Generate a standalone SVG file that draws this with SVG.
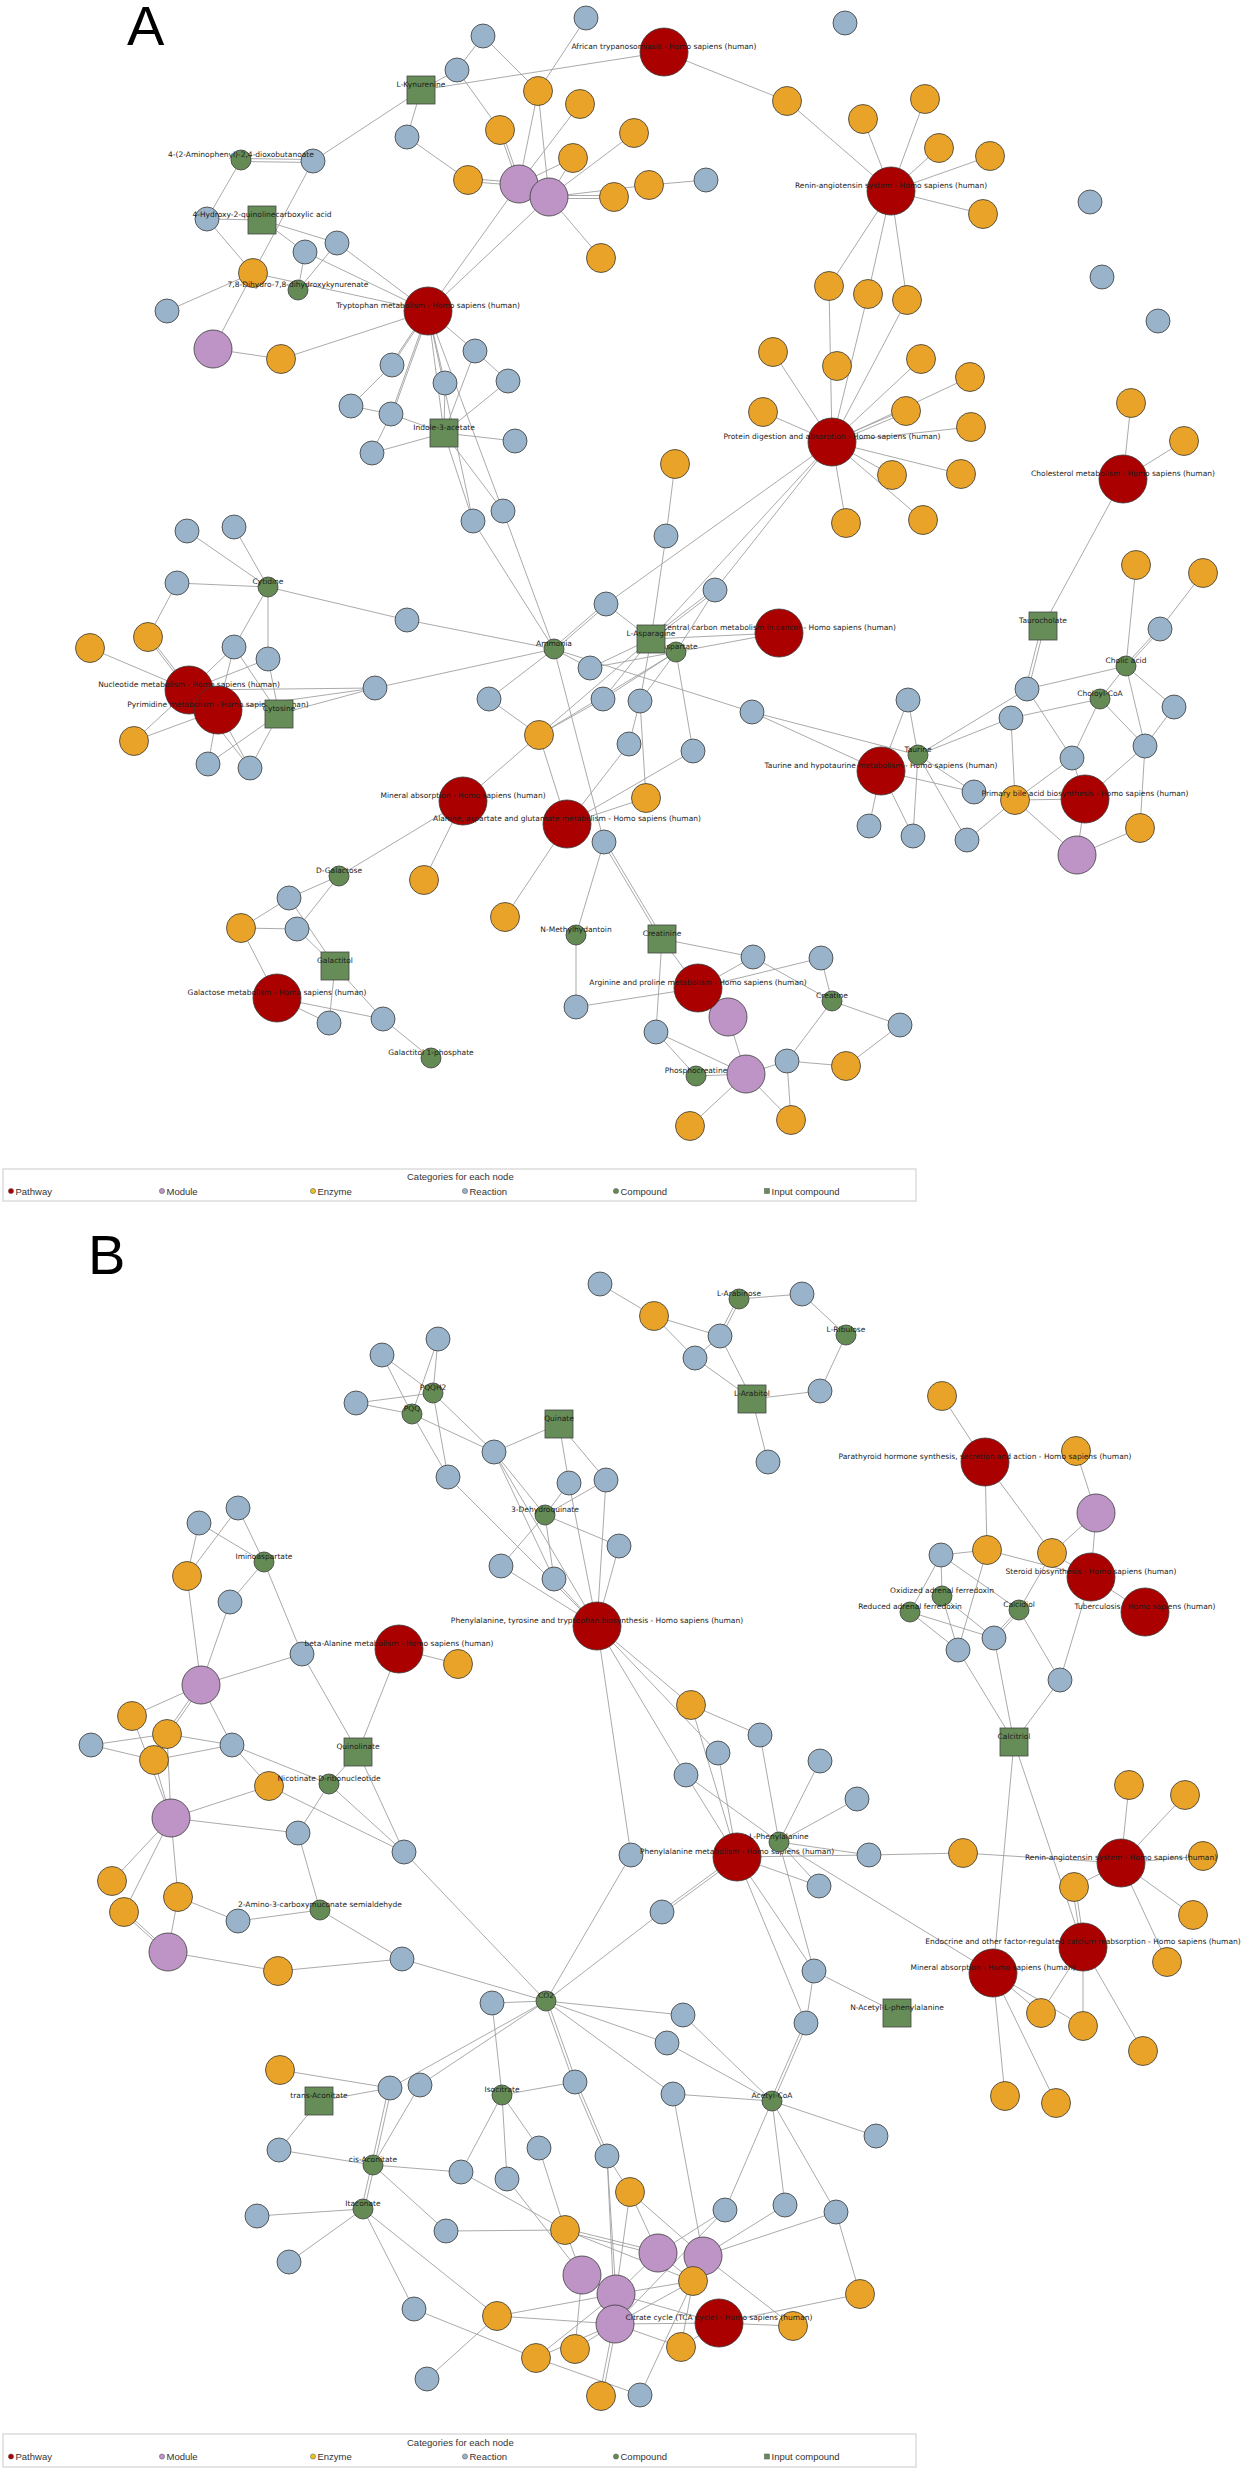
<svg xmlns="http://www.w3.org/2000/svg" width="1250" height="2472" viewBox="0 0 1250 2472">
<style>
.e path{stroke:#a0a0a0;stroke-width:0.9;fill:none}
.pw{fill:#AB0000;stroke:#3a3a3a;stroke-width:0.8}
.md{fill:#BE94C7;stroke:#3a3a3a;stroke-width:0.8}
.ez{fill:#E8A328;stroke:#3a3a3a;stroke-width:0.8}
.rx{fill:#98B3CA;stroke:#3a3a3a;stroke-width:0.8}
.cp{fill:#648B54;stroke:#3a3a3a;stroke-width:0.8}
.ic{fill:#668D57;stroke:#454545;stroke-width:0.8}
.l{font-family:"DejaVu Sans",sans-serif;font-size:7.5px;fill:#1c1c1c;text-anchor:middle}
.lg{font-family:"Liberation Sans",Arial,sans-serif;font-size:9.5px;fill:#333}
.big{font-family:"Liberation Sans",Arial,sans-serif;font-size:56px;fill:#000}
.box{fill:#fff;stroke:#dcdcdc;stroke-width:1.5}
</style>
<rect width="1250" height="2472" fill="#fff"/>
<text class="big" x="127" y="45">A</text>
<text class="big" x="88" y="1274">B</text>

<g class="e" id="connectors">
<path d="M421 90L313 161M421 90L407 137M421 90L457 70M421 90L664 52M457 70L483 36M483 36L538 91M586 18L538 91M457 70L500 130M407 137L468 180"/>
<path d="M468 178.5L519 182.5M468 181.5L519 185.5M499 130L518 184M501.5 130L520.5 184M538 91L519 184M538 91L549 197M580 104L519 184M573 158L519 184M573 158L549 197M634 133L549 197M549 195.5L614 195.5M549 198.5L614 198.5M549 197L649 185M649 185L706 180M549 197L601 258M519 184L428 311M549 197L428 311M664 52L787 101M787 101L891 191"/>
<path d="M241 158.5L313 159.5M241 161.5L313 162.5M241 160L207 219M207 219L262 220M207 219L253 273M313 161L253 273M262 220L305 252M262 220L337 243M305 252L298 290M337 243L298 290M305 252L428 311M337 243L428 311M253 273L428 311M167 311L253 273M253 273L213 349M213 349L281 359M281 359L428 311"/>
<path d="M428 311L392 365M426.5 311L390.5 365M428 311L391 414M429.5 311L392.5 414M428 311L444 433M428 311L475 351M428 311L445 383M428 311L503 511M428 311L473 521M392 365L351 406M351 406L391 414M391 414L372 453M372 453L444 433M391 414L444 433M475 351L508 381M475 351L444 433M508 381L444 433M445 383L444 433M444 433L515 441M444 433L473 521M444 433L503 511"/>
<path d="M891 191L925 99M891 191L863 119M891 191L939 148M891 191L990 156M891 191L983 214M891 191L829 286M891 191L868 294M891 191L907 300"/>
<path d="M832 442L829 286M832 442L868 294M832 442L907 300M832 442L921 359M832 442L970 377M832 440.5L906 409.5M832 443.5L906 412.5M832 442L971 427M832 442L892 475M832 442L961 474M832 442L846 523M832 442L923 520M832 442L773 352M832 442L763 412M832 442L606 604M832 442L715 590M832 442L651 639M675 464L666 536M666 536L651 639M1123 479L1131 403M1123 479L1184 441M1123 479L1043 626"/>
<path d="M473 521L554 649M503 511L554 649M606 602.5L554 647.5M606 605.5L554 650.5M606 604L651 639M715 588.5L651 637.5M715 591.5L651 640.5M715 590L676 652M651 639L779 633M676 652L779 633M554 649L590 668M554 649L489 699M554 649L752 712M554 649L604 842M554 649L375 688M407 620L554 649M590 668L651 639M590 668L676 652M603 699L651 639M603 699L676 652M603 699L539 735M640 701L651 639M640 701L676 652M640 701L629 744M640 701L646 798M539 735L651 639M539 735L676 652M489 699L539 735M539 735L463 801M539 735L567 824M629 744L567 824M693 751L676 652M693 751L567 824M646 798L567 824M752 712L881 771M752 712L918 755M463 801L424 880M463 801L339 876M567 824L505 917"/>
<path d="M604 842L576 935M602.5 842L660.5 939M605.5 842L663.5 939M576 935L576 1007M576 1007L698 988M662 939L753 957M662 939L698 988M662 939L656 1032M753 957L698 988M753 957L832 1001M698 988L821 958M821 958L832 1001M728 1017L746 1074M656 1032L696 1076M656 1032L746 1074M746 1074L787 1061M787 1061L846 1066M787 1061L832 1001M696 1076L746 1074M746 1074L690 1126M746 1074L791 1120M787 1061L791 1120"/>
<path d="M1041.5 626L1025.5 689M1044.5 626L1028.5 689M1136 565L1126 666M1203 573L1160 629M1160 627.5L1126 664.5M1160 630.5L1126 667.5M1126 666L1027 689M1126 666L1100 699M1126 666L1174 707M1126 666L1145 746M1100 699L1011 718M1100 699L1072 758M1100 699L1145 746M1174 707L1145 746M908 700L881 771M908 700L918 755M918 755L1027 689M918 755L1011 718M1011 718L1015 800M1027 689L1072 758M1072 758L1015 800M1072 758L1085 799M1145 746L1085 799M1145 746L1140 828M1015 800L1085 799M1015 800L1077 855M1085 799L1077 855M1077 855L1140 828M918 755L974 792M881 771L974 792M918 755L913 836M918 755L967 840M881 771L869 826M881 771L913 836M967 840L1015 800M832 1001L900 1025M900 1025L846 1066"/>
<path d="M187 531L268 587M234 527L268 587M177 583L268 587M268 587L407 620M268 587L234 647M268 587L268 659M177 583L148 637M147 637L188 690M149.5 637L190.5 690M90 648L189 690M234 647L189 690M234 647L218 710M234 647L279 714M268 659L189 690M268 659L279 714M375 688L189 690M375 688L218 710M375 688L279 714M134 741L189 690M134 741L218 710M218 710L208 764M218 710L250 768M189 690L250 768M279 714L208 764M279 714L250 768"/>
<path d="M339 876L289 898M339 876L297 929M289 898L241 928M289 898L335 966M241 928L297 929M241 928L277 998M297 929L335 966M335 966L329 1023M335 966L383 1019M277 998L329 1023M277 998L383 1019M383 1019L431 1058"/>
<path d="M382 1355L433 1393M382 1355L412 1414M356 1403L433 1393M356 1403L412 1414M438 1339L433 1393M438 1339L412 1414M433 1393L448 1477M433 1393L494 1452M412 1414L494 1452M412 1414L448 1477M494 1452L559 1424M494 1452L545 1515M494 1452L597 1626M494 1452L554 1579M448 1477L597 1626M559 1424L569 1483M559 1424L606 1480M569 1483L545 1515M606 1480L545 1515M545 1515L619 1546M545 1515L501 1566M545 1515L554 1579M569 1483L597 1626M606 1480L597 1626M619 1546L597 1626M501 1566L597 1626M554 1579L597 1626"/>
<path d="M654 1316L600 1284M654 1316L720 1336M654 1316L695 1358M718.5 1336L737.5 1299M721.5 1336L740.5 1299M695 1358L720 1336M739 1299L802 1294M802 1294L846 1335M846 1335L820 1391M820 1391L752 1399M695 1358L752 1399M720 1336L752 1399M752 1399L768 1462"/>
<path d="M597 1626L691 1705M597 1626L718 1753M597 1626L686 1775M597 1626L631 1855M691 1705L760 1735M691 1705L737 1857M718 1753L737 1857M686 1775L737 1857M686 1775L779 1842M760 1735L779 1842M820 1761L779 1842M857 1799L779 1842M779 1842L869 1855M737 1857L869 1855M779 1842L993 1973M869 1855L963 1853M963 1853L1121 1863M779 1842L819 1886M737 1857L819 1886M737 1855.5L662 1910.5M737 1858.5L662 1913.5M737 1857L814 1971M779 1842L814 1971M814 1971L897 2013M737 1857L806 2023M814 1971L806 2023M804.5 2023L770.5 2101M807.5 2023L773.5 2101"/>
<path d="M662 1912L546 2001M631 1855L546 2001M404 1852L546 2001M402 1959L546 2001M492 2003L546 2001M492 2003L502 2095M546 2001L683 2015M546 2001L667 2043M546 2001L673 2094M544.5 2001L573.5 2082M547.5 2001L576.5 2082M546 2001L390 2088M546 2001L420 2085M575 2082L502 2095M573.5 2082L605.5 2156M576.5 2082L608.5 2156M502 2095L539 2148M502 2095L461 2172M502 2095L507 2179M683 2015L772 2101M667 2043L772 2101M673 2094L772 2101M772 2101L876 2136M772 2101L725 2210M772 2101L785 2205M772 2101L836 2212"/>
<path d="M673 2094L703 2256M539 2148L565 2230M607 2156L616 2294M607 2156L615 2324M607 2156L630 2192M630 2192L658 2253M630 2192L616 2294M630 2192L703 2256M461 2172L565 2230M507 2179L582 2275M446 2231L565 2230M565 2228.5L658 2251.5M565 2231.5L658 2254.5M565 2230L582 2275M565 2230L693 2281M725 2210L658 2253M725 2210L615 2324M785 2205L703 2256M836 2212L703 2256M836 2212L860 2294M719 2323L860 2294M703 2256L793 2326M703 2256L693 2281M658 2253L693 2281M658 2253L616 2294M693 2281L616 2294M693 2281L615 2324M693 2281L681 2347M616 2294L497 2316M615 2324L497 2316M615 2324L719 2323M616 2294L719 2323M719 2323L793 2326M615 2324L575 2349M615 2324L536 2358M616 2294L536 2358M613.5 2324L599.5 2396M616.5 2324L602.5 2396M615 2324L681 2347M582 2275L575 2349M582 2275L616 2294M536 2358L640 2395M640 2395L693 2281M414 2309L536 2358M427 2379L497 2316M681 2347L719 2323"/>
<path d="M373 2165L461 2172M373 2165L446 2231M363 2209L497 2316M363 2209L414 2309M371.5 2165L388.5 2088M374.5 2165L391.5 2088M373 2165L420 2085M373 2165L279 2150M371.5 2165L361.5 2209M374.5 2165L364.5 2209M363 2209L257 2216M363 2209L289 2262M279 2150L319 2101M319 2101L390 2088M280 2070L390 2088"/>
<path d="M402 1959L278 1971M278 1971L168 1952M238 1921L178 1897M238 1921L320 1910M320 1910L298 1833M320 1910L402 1959M298 1833L329 1784M298 1833L171 1818M171 1818L269 1786M171 1818L112 1881M171 1818L124 1912M171 1818L178 1897M178 1897L168 1952M124 1910.5L168 1950.5M124 1913.5L168 1953.5M269 1786L404 1852M329 1784L404 1852M358 1752L404 1852"/>
<path d="M238 1508L264 1562M238 1508L187 1576M199 1523L187 1576M199 1523L264 1562M264 1562L230 1602M264 1562L302 1654M187 1576L201 1685M230 1602L201 1685M201 1685L302 1654M302 1654L358 1752M399 1649L358 1752M399 1649L458 1664M201 1685L132 1716M199.5 1685L165.5 1734M202.5 1685L168.5 1734M201 1685L232 1745M167 1734L232 1745M154 1760L232 1745M91 1745L167 1734M91 1745L154 1760M132 1716L171 1818M167 1734L171 1818M154 1760L171 1818M232 1745L269 1786M232 1745L329 1784M358 1752L329 1784"/>
<path d="M942 1396L985 1462M985 1462L987 1550M985 1462L1052 1553M1076 1451L1096 1513M1096 1513L1052 1553M1096 1513L1091 1577M1091 1577L1145 1612M1052 1553L1091 1577M1052 1553L1019 1610M987 1550L1091 1577M941 1555L987 1550M941 1555L942 1596M941 1555L910 1612M941 1555L1019 1610M987 1550L958 1650M942 1596L958 1650M942 1596L994 1638M910 1612L958 1650M910 1612L994 1638M1017.5 1610L992.5 1638M1020.5 1610L995.5 1638M1019 1610L1060 1680M1091 1577L1060 1680M958 1650L1014 1742M994 1638L1014 1742M1060 1680L1014 1742M1014 1742L993 1973M1014 1742L1083 1947"/>
<path d="M1129 1785L1121 1863M1185 1795L1121 1863M1203 1856L1121 1863M1193 1915L1121 1863M1121 1863L1074 1887M1121 1863L1167 1962M1072.5 1887L1081.5 1947M1075.5 1887L1084.5 1947M1083 1947L1041 2013M1083 1947L1083 2026M1083 1947L1143 2051M993 1973L1041 2013M993 1973L1083 2026M993 1973L1005 2096M993 1973L1056 2103"/>
</g>

<g id="reactions" class="rx">
<g id="rA1"><circle cx="407" cy="137" r="12"/></g><g id="rA2"><circle cx="313" cy="161" r="12"/></g><g id="rA3"><circle cx="207" cy="219" r="12"/></g><g id="rA4"><circle cx="337" cy="243" r="12"/></g><g id="rA5"><circle cx="305" cy="252" r="12"/></g><g id="rA6"><circle cx="167" cy="311" r="12"/></g><g id="rA7"><circle cx="392" cy="365" r="12"/></g><g id="rA8"><circle cx="351" cy="406" r="12"/></g><g id="rA9"><circle cx="391" cy="414" r="12"/></g><g id="rA10"><circle cx="372" cy="453" r="12"/></g><g id="rA11"><circle cx="483" cy="36" r="12"/></g><g id="rA12"><circle cx="586" cy="18" r="12"/></g><g id="rA13"><circle cx="457" cy="70" r="12"/></g><g id="rA14"><circle cx="706" cy="180" r="12"/></g><g id="rA15"><circle cx="475" cy="351" r="12"/></g><g id="rA16"><circle cx="508" cy="381" r="12"/></g><g id="rA17"><circle cx="445" cy="383" r="12"/></g><g id="rA18"><circle cx="515" cy="441" r="12"/></g><g id="rA19"><circle cx="473" cy="521" r="12"/></g><g id="rA20"><circle cx="503" cy="511" r="12"/></g><g id="rA21"><circle cx="666" cy="536" r="12"/></g><g id="rA22"><circle cx="845" cy="23" r="12"/></g><g id="rA23"><circle cx="1090" cy="202" r="12"/></g><g id="rA24"><circle cx="1102" cy="277" r="12"/></g><g id="rA25"><circle cx="1158" cy="321" r="12"/></g><g id="rA26"><circle cx="1160" cy="629" r="12"/></g><g id="rA27"><circle cx="1027" cy="689" r="12"/></g><g id="rA28"><circle cx="1174" cy="707" r="12"/></g><g id="rA29"><circle cx="908" cy="700" r="12"/></g><g id="rA30"><circle cx="1011" cy="718" r="12"/></g><g id="rA31"><circle cx="1145" cy="746" r="12"/></g><g id="rA32"><circle cx="1072" cy="758" r="12"/></g><g id="rA33"><circle cx="974" cy="792" r="12"/></g><g id="rA34"><circle cx="869" cy="826" r="12"/></g><g id="rA35"><circle cx="913" cy="836" r="12"/></g><g id="rA36"><circle cx="967" cy="840" r="12"/></g><g id="rA37"><circle cx="821" cy="958" r="12"/></g><g id="rA38"><circle cx="900" cy="1025" r="12"/></g><g id="rA40"><circle cx="606" cy="604" r="12"/></g><g id="rA41"><circle cx="715" cy="590" r="12"/></g><g id="rA42"><circle cx="407" cy="620" r="12"/></g><g id="rA43"><circle cx="590" cy="668" r="12"/></g><g id="rA44"><circle cx="489" cy="699" r="12"/></g><g id="rA45"><circle cx="603" cy="699" r="12"/></g><g id="rA46"><circle cx="640" cy="701" r="12"/></g><g id="rA47"><circle cx="752" cy="712" r="12"/></g><g id="rA48"><circle cx="629" cy="744" r="12"/></g><g id="rA49"><circle cx="693" cy="751" r="12"/></g><g id="rA50"><circle cx="604" cy="842" r="12"/></g><g id="rA51"><circle cx="753" cy="957" r="12"/></g><g id="rA53"><circle cx="576" cy="1007" r="12"/></g><g id="rA54"><circle cx="656" cy="1032" r="12"/></g><g id="rA55"><circle cx="787" cy="1061" r="12"/></g><g id="rA56"><circle cx="187" cy="531" r="12"/></g><g id="rA57"><circle cx="234" cy="527" r="12"/></g><g id="rA58"><circle cx="177" cy="583" r="12"/></g><g id="rA60"><circle cx="234" cy="647" r="12"/></g><g id="rA61"><circle cx="268" cy="659" r="12"/></g><g id="rA62"><circle cx="375" cy="688" r="12"/></g><g id="rA63"><circle cx="208" cy="764" r="12"/></g><g id="rA64"><circle cx="250" cy="768" r="12"/></g><g id="rA65"><circle cx="289" cy="898" r="12"/></g><g id="rA66"><circle cx="297" cy="929" r="12"/></g><g id="rA67"><circle cx="329" cy="1023" r="12"/></g><g id="rA68"><circle cx="383" cy="1019" r="12"/></g>
<g id="rB1"><circle cx="382" cy="1355" r="12"/></g><g id="rB2"><circle cx="438" cy="1339" r="12"/></g><g id="rB3"><circle cx="356" cy="1403" r="12"/></g><g id="rB4"><circle cx="238" cy="1508" r="12"/></g><g id="rB5"><circle cx="199" cy="1523" r="12"/></g><g id="rB6"><circle cx="230" cy="1602" r="12"/></g><g id="rB7"><circle cx="302" cy="1654" r="12"/></g><g id="rB8"><circle cx="91" cy="1745" r="12"/></g><g id="rB9"><circle cx="232" cy="1745" r="12"/></g><g id="rB10"><circle cx="298" cy="1833" r="12"/></g><g id="rB11"><circle cx="404" cy="1852" r="12"/></g><g id="rB12"><circle cx="238" cy="1921" r="12"/></g><g id="rB13"><circle cx="402" cy="1959" r="12"/></g><g id="rB14"><circle cx="390" cy="2088" r="12"/></g><g id="rB15"><circle cx="420" cy="2085" r="12"/></g><g id="rB16"><circle cx="279" cy="2150" r="12"/></g><g id="rB17"><circle cx="257" cy="2216" r="12"/></g><g id="rB18"><circle cx="289" cy="2262" r="12"/></g><g id="rB19"><circle cx="414" cy="2309" r="12"/></g><g id="rB20"><circle cx="427" cy="2379" r="12"/></g><g id="rB21"><circle cx="600" cy="1284" r="12"/></g><g id="rB22"><circle cx="802" cy="1294" r="12"/></g><g id="rB23"><circle cx="720" cy="1336" r="12"/></g><g id="rB24"><circle cx="695" cy="1358" r="12"/></g><g id="rB25"><circle cx="820" cy="1391" r="12"/></g><g id="rB26"><circle cx="768" cy="1462" r="12"/></g><g id="rB27"><circle cx="494" cy="1452" r="12"/></g><g id="rB28"><circle cx="448" cy="1477" r="12"/></g><g id="rB29"><circle cx="569" cy="1483" r="12"/></g><g id="rB30"><circle cx="606" cy="1480" r="12"/></g><g id="rB31"><circle cx="619" cy="1546" r="12"/></g><g id="rB32"><circle cx="501" cy="1566" r="12"/></g><g id="rB33"><circle cx="554" cy="1579" r="12"/></g><g id="rB34"><circle cx="760" cy="1735" r="12"/></g><g id="rB35"><circle cx="718" cy="1753" r="12"/></g><g id="rB36"><circle cx="686" cy="1775" r="12"/></g><g id="rB37"><circle cx="820" cy="1761" r="12"/></g><g id="rB38"><circle cx="941" cy="1555" r="12"/></g><g id="rB39"><circle cx="994" cy="1638" r="12"/></g><g id="rB40"><circle cx="958" cy="1650" r="12"/></g><g id="rB41"><circle cx="1060" cy="1680" r="12"/></g><g id="rB43"><circle cx="857" cy="1799" r="12"/></g><g id="rB44"><circle cx="869" cy="1855" r="12"/></g><g id="rB46"><circle cx="876" cy="2136" r="12"/></g><g id="rB47"><circle cx="836" cy="2212" r="12"/></g><g id="rB49"><circle cx="631" cy="1855" r="12"/></g><g id="rB50"><circle cx="819" cy="1886" r="12"/></g><g id="rB51"><circle cx="662" cy="1912" r="12"/></g><g id="rB53"><circle cx="814" cy="1971" r="12"/></g><g id="rB54"><circle cx="492" cy="2003" r="12"/></g><g id="rB55"><circle cx="683" cy="2015" r="12"/></g><g id="rB56"><circle cx="806" cy="2023" r="12"/></g><g id="rB57"><circle cx="667" cy="2043" r="12"/></g><g id="rB59"><circle cx="575" cy="2082" r="12"/></g><g id="rB60"><circle cx="673" cy="2094" r="12"/></g><g id="rB61"><circle cx="539" cy="2148" r="12"/></g><g id="rB62"><circle cx="607" cy="2156" r="12"/></g><g id="rB63"><circle cx="461" cy="2172" r="12"/></g><g id="rB64"><circle cx="507" cy="2179" r="12"/></g><g id="rB65"><circle cx="725" cy="2210" r="12"/></g><g id="rB66"><circle cx="785" cy="2205" r="12"/></g><g id="rB68"><circle cx="446" cy="2231" r="12"/></g><g id="rB71"><circle cx="640" cy="2395" r="12"/></g>
</g>

<g id="enzymes" class="ez">
<g id="eA1"><circle cx="253" cy="273" r="14.5"/></g><g id="eA2"><circle cx="281" cy="359" r="14.5"/></g><g id="eA3"><circle cx="538" cy="91" r="14.5"/></g><g id="eA4"><circle cx="580" cy="104" r="14.5"/></g><g id="eA5"><circle cx="787" cy="101" r="14.5"/></g><g id="eA6"><circle cx="500" cy="130" r="14.5"/></g><g id="eA7"><circle cx="634" cy="133" r="14.5"/></g><g id="eA8"><circle cx="573" cy="158" r="14.5"/></g><g id="eA9"><circle cx="468" cy="180" r="14.5"/></g><g id="eA10"><circle cx="614" cy="197" r="14.5"/></g><g id="eA11"><circle cx="649" cy="185" r="14.5"/></g><g id="eA12"><circle cx="601" cy="258" r="14.5"/></g><g id="eA13"><circle cx="773" cy="352" r="14.5"/></g><g id="eA14"><circle cx="837" cy="366" r="14.5"/></g><g id="eA15"><circle cx="763" cy="412" r="14.5"/></g><g id="eA16"><circle cx="829" cy="286" r="14.5"/></g><g id="eA17"><circle cx="675" cy="464" r="14.5"/></g><g id="eA18"><circle cx="846" cy="523" r="14.5"/></g><g id="eA19"><circle cx="925" cy="99" r="14.5"/></g><g id="eA20"><circle cx="863" cy="119" r="14.5"/></g><g id="eA21"><circle cx="939" cy="148" r="14.5"/></g><g id="eA22"><circle cx="990" cy="156" r="14.5"/></g><g id="eA23"><circle cx="983" cy="214" r="14.5"/></g><g id="eA24"><circle cx="868" cy="294" r="14.5"/></g><g id="eA25"><circle cx="907" cy="300" r="14.5"/></g><g id="eA26"><circle cx="921" cy="359" r="14.5"/></g><g id="eA27"><circle cx="970" cy="377" r="14.5"/></g><g id="eA28"><circle cx="906" cy="411" r="14.5"/></g><g id="eA29"><circle cx="971" cy="427" r="14.5"/></g><g id="eA30"><circle cx="892" cy="475" r="14.5"/></g><g id="eA31"><circle cx="961" cy="474" r="14.5"/></g><g id="eA32"><circle cx="923" cy="520" r="14.5"/></g><g id="eA33"><circle cx="1131" cy="403" r="14.5"/></g><g id="eA34"><circle cx="1184" cy="441" r="14.5"/></g><g id="eA36"><circle cx="1136" cy="565" r="14.5"/></g><g id="eA37"><circle cx="1203" cy="573" r="14.5"/></g><g id="eA38"><circle cx="1015" cy="800" r="14.5"/></g><g id="eA39"><circle cx="1140" cy="828" r="14.5"/></g><g id="eA40"><circle cx="846" cy="1066" r="14.5"/></g><g id="eA41"><circle cx="539" cy="735" r="14.5"/></g><g id="eA42"><circle cx="646" cy="798" r="14.5"/></g><g id="eA43"><circle cx="424" cy="880" r="14.5"/></g><g id="eA44"><circle cx="505" cy="917" r="14.5"/></g><g id="eA45"><circle cx="690" cy="1126" r="14.5"/></g><g id="eA46"><circle cx="791" cy="1120" r="14.5"/></g><g id="eA47"><circle cx="148" cy="637" r="14.5"/></g><g id="eA48"><circle cx="90" cy="648" r="14.5"/></g><g id="eA49"><circle cx="134" cy="741" r="14.5"/></g><g id="eA51"><circle cx="241" cy="928" r="14.5"/></g>
<g id="eB1"><circle cx="187" cy="1576" r="14.5"/></g><g id="eB2"><circle cx="132" cy="1716" r="14.5"/></g><g id="eB3"><circle cx="167" cy="1734" r="14.5"/></g><g id="eB4"><circle cx="154" cy="1760" r="14.5"/></g><g id="eB5"><circle cx="269" cy="1786" r="14.5"/></g><g id="eB6"><circle cx="112" cy="1881" r="14.5"/></g><g id="eB7"><circle cx="178" cy="1897" r="14.5"/></g><g id="eB8"><circle cx="124" cy="1912" r="14.5"/></g><g id="eB9"><circle cx="278" cy="1971" r="14.5"/></g><g id="eB10"><circle cx="280" cy="2070" r="14.5"/></g><g id="eB11"><circle cx="654" cy="1316" r="14.5"/></g><g id="eB12"><circle cx="458" cy="1664" r="14.5"/></g><g id="eB13"><circle cx="691" cy="1705" r="14.5"/></g><g id="eB14"><circle cx="942" cy="1396" r="14.5"/></g><g id="eB15"><circle cx="1076" cy="1451" r="14.5"/></g><g id="eB16"><circle cx="987" cy="1550" r="14.5"/></g><g id="eB17"><circle cx="1052" cy="1553" r="14.5"/></g><g id="eB18"><circle cx="1129" cy="1785" r="14.5"/></g><g id="eB19"><circle cx="1185" cy="1795" r="14.5"/></g><g id="eB20"><circle cx="963" cy="1853" r="14.5"/></g><g id="eB21"><circle cx="1203" cy="1856" r="14.5"/></g><g id="eB22"><circle cx="1074" cy="1887" r="14.5"/></g><g id="eB23"><circle cx="1193" cy="1915" r="14.5"/></g><g id="eB24"><circle cx="1167" cy="1962" r="14.5"/></g><g id="eB25"><circle cx="1041" cy="2013" r="14.5"/></g><g id="eB26"><circle cx="1083" cy="2026" r="14.5"/></g><g id="eB27"><circle cx="1143" cy="2051" r="14.5"/></g><g id="eB28"><circle cx="1005" cy="2096" r="14.5"/></g><g id="eB29"><circle cx="1056" cy="2103" r="14.5"/></g><g id="eB30"><circle cx="860" cy="2294" r="14.5"/></g><g id="eB31"><circle cx="630" cy="2192" r="14.5"/></g><g id="eB32"><circle cx="565" cy="2230" r="14.5"/></g><g id="eB34"><circle cx="497" cy="2316" r="14.5"/></g><g id="eB35"><circle cx="793" cy="2326" r="14.5"/></g><g id="eB37"><circle cx="536" cy="2358" r="14.5"/></g><g id="eB38"><circle cx="575" cy="2349" r="14.5"/></g><g id="eB39"><circle cx="681" cy="2347" r="14.5"/></g><g id="eB40"><circle cx="601" cy="2396" r="14.5"/></g>
</g>

<g id="modules" class="md">
<g id="mA1"><circle cx="213" cy="349" r="19"/></g><g id="mA2"><circle cx="519" cy="184" r="19"/></g><g id="mA3"><circle cx="549" cy="197" r="19"/></g><g id="mA4"><circle cx="1077" cy="855" r="19"/></g><g id="mA5"><circle cx="728" cy="1017" r="19"/></g><g id="mA6"><circle cx="746" cy="1074" r="19"/></g>
<g id="mB1"><circle cx="201" cy="1685" r="19"/></g><g id="mB2"><circle cx="171" cy="1818" r="19"/></g><g id="mB3"><circle cx="168" cy="1952" r="19"/></g><g id="mB4"><circle cx="1096" cy="1513" r="19"/></g><g id="mB5"><circle cx="658" cy="2253" r="19"/></g><g id="mB6"><circle cx="703" cy="2256" r="19"/></g><g id="mB7"><circle cx="582" cy="2275" r="19"/></g><g id="mB8"><circle cx="616" cy="2294" r="19"/></g><g id="mB9"><circle cx="615" cy="2324" r="19"/></g>
</g>
<g id="eB33" class="ez"><circle cx="693" cy="2281" r="14.5"/></g>

<g id="pathways">
<g id="pA_trp"><circle class="pw" cx="428" cy="311" r="24"/><text class="l" x="428" y="308">Tryptophan metabolism - Homo sapiens (human)</text></g>
<g id="pA_afr"><circle class="pw" cx="664" cy="52" r="24"/><text class="l" x="664" y="49">African trypanosomiasis - Homo sapiens (human)</text></g>
<g id="pA_ren"><circle class="pw" cx="891" cy="191" r="24"/><text class="l" x="891" y="188">Renin-angiotensin system - Homo sapiens (human)</text></g>
<g id="pA_prot"><circle class="pw" cx="832" cy="442" r="24"/><text class="l" x="832" y="439">Protein digestion and absorption - Homo sapiens (human)</text></g>
<g id="pA_chol"><circle class="pw" cx="1123" cy="479" r="24"/><text class="l" x="1123" y="476">Cholesterol metabolism - Homo sapiens (human)</text></g>
<g id="pA_ccm"><circle class="pw" cx="779" cy="633" r="24"/><text class="l" x="779" y="630">Central carbon metabolism in cancer - Homo sapiens (human)</text></g>
<g id="pA_tau"><circle class="pw" cx="881" cy="771" r="24"/><text class="l" x="881" y="768">Taurine and hypotaurine metabolism - Homo sapiens (human)</text></g>
<g id="pA_bile"><circle class="pw" cx="1085" cy="799" r="24"/><text class="l" x="1085" y="796">Primary bile acid biosynthesis - Homo sapiens (human)</text></g>
<g id="pA_min"><circle class="pw" cx="463" cy="801" r="24"/><text class="l" x="463" y="798">Mineral absorption - Homo sapiens (human)</text></g>
<g id="pA_ala"><circle class="pw" cx="567" cy="824" r="24"/><text class="l" x="567" y="821">Alanine, aspartate and glutamate metabolism - Homo sapiens (human)</text></g>
<g id="pA_arg"><circle class="pw" cx="698" cy="988" r="24"/><text class="l" x="698" y="985">Arginine and proline metabolism - Homo sapiens (human)</text></g>
<g id="pA_nuc"><circle class="pw" cx="189" cy="690" r="24"/><text class="l" x="189" y="687">Nucleotide metabolism - Homo sapiens (human)</text></g>
<g id="pA_pyr"><circle class="pw" cx="218" cy="710" r="24"/><text class="l" x="218" y="707">Pyrimidine metabolism - Homo sapiens (human)</text></g>
<g id="pA_gal"><circle class="pw" cx="277" cy="998" r="24"/><text class="l" x="277" y="995">Galactose metabolism - Homo sapiens (human)</text></g>
<g id="pB_bala"><circle class="pw" cx="399" cy="1649" r="24"/><text class="l" x="399" y="1646">beta-Alanine metabolism - Homo sapiens (human)</text></g>
<g id="pB_phe"><circle class="pw" cx="597" cy="1626" r="24"/><text class="l" x="597" y="1623">Phenylalanine, tyrosine and tryptophan biosynthesis - Homo sapiens (human)</text></g>
<g id="pB_pth"><circle class="pw" cx="985" cy="1462" r="24"/><text class="l" x="985" y="1459">Parathyroid hormone synthesis, secretion and action - Homo sapiens (human)</text></g>
<g id="pB_ster"><circle class="pw" cx="1091" cy="1577" r="24"/><text class="l" x="1091" y="1574">Steroid biosynthesis - Homo sapiens (human)</text></g>
<g id="pB_tb"><circle class="pw" cx="1145" cy="1612" r="24"/><text class="l" x="1145" y="1609">Tuberculosis - Homo sapiens (human)</text></g>
<g id="pB_pheme"><circle class="pw" cx="737" cy="1857" r="24"/><text class="l" x="737" y="1854">Phenylalanine metabolism - Homo sapiens (human)</text></g>
<g id="pB_ras"><circle class="pw" cx="1121" cy="1863" r="24"/><text class="l" x="1121" y="1860">Renin-angiotensin system - Homo sapiens (human)</text></g>
<g id="pB_endo"><circle class="pw" cx="1083" cy="1947" r="24"/><text class="l" x="1083" y="1944">Endocrine and other factor-regulated calcium reabsorption - Homo sapiens (human)</text></g>
<g id="pB_min"><circle class="pw" cx="993" cy="1973" r="24"/><text class="l" x="993" y="1970">Mineral absorption - Homo sapiens (human)</text></g>
<g id="pB_tca"><circle class="pw" cx="719" cy="2323" r="24"/><text class="l" x="719" y="2320">Citrate cycle (TCA cycle) - Homo sapiens (human)</text></g>
</g>

<g id="compounds">
<g id="cA_amino"><circle class="cp" cx="241" cy="160" r="10"/><text class="l" x="241" y="157">4-(2-Aminophenyl)-2,4-dioxobutanoate</text></g>
<g id="cA_78"><circle class="cp" cx="298" cy="290" r="10"/><text class="l" x="298" y="287">7,8-Dihydro-7,8-dihydroxykynurenate</text></g>
<g id="cA_chol"><circle class="cp" cx="1126" cy="666" r="10"/><text class="l" x="1126" y="663">Cholic acid</text></g>
<g id="cA_choloyl"><circle class="cp" cx="1100" cy="699" r="10"/><text class="l" x="1100" y="696">Choloyl-CoA</text></g>
<g id="cA_taurine"><circle class="cp" cx="918" cy="755" r="10"/><text class="l" x="918" y="752">Taurine</text></g>
<g id="cA_amm"><circle class="cp" cx="554" cy="649" r="10"/><text class="l" x="554" y="646">Ammonia</text></g>
<g id="cA_asp"><circle class="cp" cx="676" cy="652" r="10"/><text class="l" x="676" y="649">L-Aspartate</text></g>
<g id="cA_nmh"><circle class="cp" cx="576" cy="935" r="10"/><text class="l" x="576" y="932">N-Methylhydantoin</text></g>
<g id="cA_creatine"><circle class="cp" cx="832" cy="1001" r="10"/><text class="l" x="832" y="998">Creatine</text></g>
<g id="cA_pcr"><circle class="cp" cx="696" cy="1076" r="10"/><text class="l" x="696" y="1073">Phosphocreatine</text></g>
<g id="cA_gal1p"><circle class="cp" cx="431" cy="1058" r="10"/><text class="l" x="431" y="1055">Galactitol 1-phosphate</text></g>
<g id="cA_cyt"><circle class="cp" cx="268" cy="587" r="10"/><text class="l" x="268" y="584">Cytidine</text></g>
<g id="cA_dgal"><circle class="cp" cx="339" cy="876" r="10"/><text class="l" x="339" y="873">D-Galactose</text></g>
<g id="cB_pqqh2"><circle class="cp" cx="433" cy="1393" r="10"/><text class="l" x="433" y="1390">PQQH2</text></g>
<g id="cB_pqq"><circle class="cp" cx="412" cy="1414" r="10"/><text class="l" x="412" y="1411">PQQ</text></g>
<g id="cB_imino"><circle class="cp" cx="264" cy="1562" r="10"/><text class="l" x="264" y="1559">Iminoaspartate</text></g>
<g id="cB_nic"><circle class="cp" cx="329" cy="1784" r="10"/><text class="l" x="329" y="1781">Nicotinate D-ribonucleotide</text></g>
<g id="cB_acms"><circle class="cp" cx="320" cy="1910" r="10"/><text class="l" x="320" y="1907">2-Amino-3-carboxymuconate semialdehyde</text></g>
<g id="cB_cis"><circle class="cp" cx="373" cy="2165" r="10"/><text class="l" x="373" y="2162">cis-Aconitate</text></g>
<g id="cB_ita"><circle class="cp" cx="363" cy="2209" r="10"/><text class="l" x="363" y="2206">Itaconate</text></g>
<g id="cB_arab"><circle class="cp" cx="739" cy="1299" r="10"/><text class="l" x="739" y="1296">L-Arabinose</text></g>
<g id="cB_ribu"><circle class="cp" cx="846" cy="1335" r="10"/><text class="l" x="846" y="1332">L-Ribulose</text></g>
<g id="cB_3dhq"><circle class="cp" cx="545" cy="1515" r="10"/><text class="l" x="545" y="1512">3-Dehydroquinate</text></g>
<g id="cB_oxfd"><circle class="cp" cx="942" cy="1596" r="10"/><text class="l" x="942" y="1593">Oxidized adrenal ferredoxin</text></g>
<g id="cB_redfd"><circle class="cp" cx="910" cy="1612" r="10"/><text class="l" x="910" y="1609">Reduced adrenal ferredoxin</text></g>
<g id="cB_calcidiol"><circle class="cp" cx="1019" cy="1610" r="10"/><text class="l" x="1019" y="1607">Calcidiol</text></g>
<g id="cB_lphe"><circle class="cp" cx="779" cy="1842" r="10"/><text class="l" x="779" y="1839">L-Phenylalanine</text></g>
<g id="cB_co2"><circle class="cp" cx="546" cy="2001" r="10"/><text class="l" x="546" y="1998">CO2</text></g>
<g id="cB_isocit"><circle class="cp" cx="502" cy="2095" r="10"/><text class="l" x="502" y="2092">Isocitrate</text></g>
<g id="cB_acoa"><circle class="cp" cx="772" cy="2101" r="10"/><text class="l" x="772" y="2098">Acetyl-CoA</text></g>
</g>

<g id="input-compounds">
<g id="sA_kyn"><rect class="ic" x="407" y="76" width="28" height="28"/><text class="l" x="421" y="87">L-Kynurenine</text></g>
<g id="sA_hq"><rect class="ic" x="248" y="206" width="28" height="28"/><text class="l" x="262" y="217">4-Hydroxy-2-quinolinecarboxylic acid</text></g>
<g id="sA_ind"><rect class="ic" x="430" y="419" width="28" height="28"/><text class="l" x="444" y="430">Indole-3-acetate</text></g>
<g id="sA_tauro"><rect class="ic" x="1029" y="612" width="28" height="28"/><text class="l" x="1043" y="623">Taurocholate</text></g>
<g id="sA_asn"><rect class="ic" x="637" y="625" width="28" height="28"/><text class="l" x="651" y="636">L-Asparagine</text></g>
<g id="sA_crn"><rect class="ic" x="648" y="925" width="28" height="28"/><text class="l" x="662" y="936">Creatinine</text></g>
<g id="sA_cytosine"><rect class="ic" x="265" y="700" width="28" height="28"/><text class="l" x="279" y="711">Cytosine</text></g>
<g id="sA_galtol"><rect class="ic" x="321" y="952" width="28" height="28"/><text class="l" x="335" y="963">Galactitol</text></g>
<g id="sB_quin"><rect class="ic" x="344" y="1738" width="28" height="28"/><text class="l" x="358" y="1749">Quinolinate</text></g>
<g id="sB_quinate"><rect class="ic" x="545" y="1410" width="28" height="28"/><text class="l" x="559" y="1421">Quinate</text></g>
<g id="sB_arabitol"><rect class="ic" x="738" y="1385" width="28" height="28"/><text class="l" x="752" y="1396">L-Arabitol</text></g>
<g id="sB_trans"><rect class="ic" x="305" y="2087" width="28" height="28"/><text class="l" x="319" y="2098">trans-Aconitate</text></g>
<g id="sB_calcitriol"><rect class="ic" x="1000" y="1728" width="28" height="28"/><text class="l" x="1014" y="1739">Calcitriol</text></g>
<g id="sB_nacphe"><rect class="ic" x="883" y="1999" width="28" height="28"/><text class="l" x="897" y="2010">N-Acetyl-L-phenylalanine</text></g>
</g>

<g id="legend-A">
<rect class="box" x="3" y="1169" width="913" height="32"/>
<text class="lg" x="407" y="1180">Categories for each node</text>
<circle cx="11" cy="1191" r="2.6" fill="#AB0000" stroke="#555" stroke-width="0.5"/><text class="lg" x="15.5" y="1194.5">Pathway</text>
<circle cx="162" cy="1191" r="2.6" fill="#BE94C7" stroke="#555" stroke-width="0.5"/><text class="lg" x="166.5" y="1194.5">Module</text>
<circle cx="313" cy="1191" r="2.6" fill="#E8C21E" stroke="#555" stroke-width="0.5"/><text class="lg" x="317.5" y="1194.5">Enzyme</text>
<circle cx="465" cy="1191" r="2.6" fill="#98B3CA" stroke="#555" stroke-width="0.5"/><text class="lg" x="469.5" y="1194.5">Reaction</text>
<circle cx="616" cy="1191" r="2.6" fill="#648B54" stroke="#555" stroke-width="0.5"/><text class="lg" x="620.5" y="1194.5">Compound</text>
<rect x="764.5" y="1188.5" width="5" height="5" fill="#668D57" stroke="#555" stroke-width="0.5"/><text class="lg" x="771.5" y="1194.5">Input compound</text>
</g>
<g id="legend-B">
<rect class="box" x="3" y="2434" width="913" height="33"/>
<text class="lg" x="407" y="2445.5">Categories for each node</text>
<circle cx="11" cy="2456.5" r="2.6" fill="#AB0000" stroke="#555" stroke-width="0.5"/><text class="lg" x="15.5" y="2460">Pathway</text>
<circle cx="162" cy="2456.5" r="2.6" fill="#BE94C7" stroke="#555" stroke-width="0.5"/><text class="lg" x="166.5" y="2460">Module</text>
<circle cx="313" cy="2456.5" r="2.6" fill="#E8C21E" stroke="#555" stroke-width="0.5"/><text class="lg" x="317.5" y="2460">Enzyme</text>
<circle cx="465" cy="2456.5" r="2.6" fill="#98B3CA" stroke="#555" stroke-width="0.5"/><text class="lg" x="469.5" y="2460">Reaction</text>
<circle cx="616" cy="2456.5" r="2.6" fill="#648B54" stroke="#555" stroke-width="0.5"/><text class="lg" x="620.5" y="2460">Compound</text>
<rect x="764.5" y="2454" width="5" height="5" fill="#668D57" stroke="#555" stroke-width="0.5"/><text class="lg" x="771.5" y="2460">Input compound</text>
</g>
</svg>
